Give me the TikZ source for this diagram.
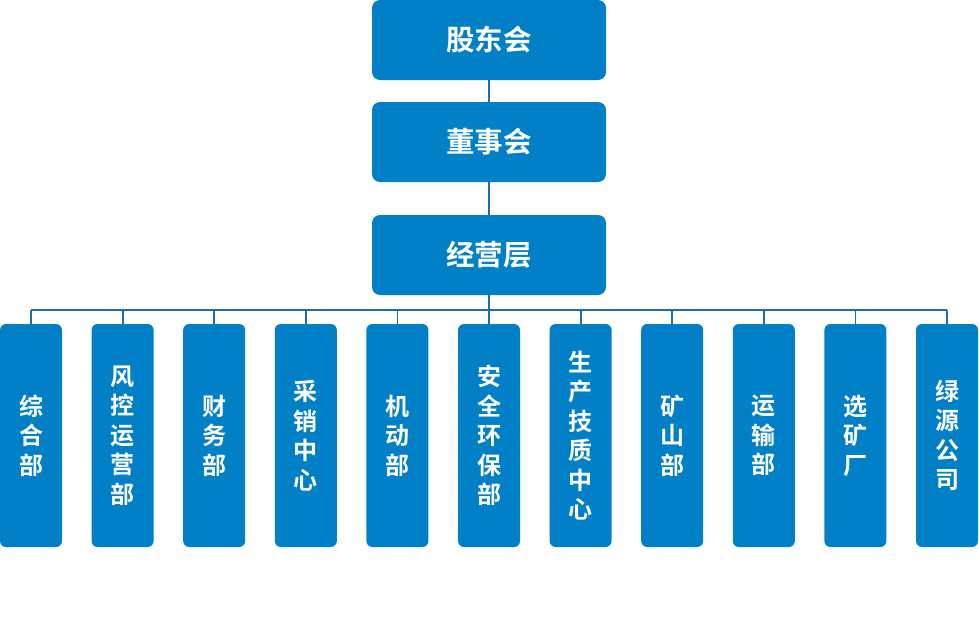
\documentclass[tikz,border=0pt]{standalone}
\usepackage{fontspec}
\setmainfont{Noto Sans CJK SC Bold}
\definecolor{boxblue}{HTML}{0180C8}
\definecolor{lineblue}{HTML}{1B6EAA}
\begin{document}
\begin{tikzpicture}[x=1pt,y=-1pt,
  topbox/.style={fill=boxblue,draw=none,rounded corners=8pt,minimum width=234pt,minimum height=80pt,inner sep=0pt,text=white,font=\fontsize{28.5}{32}\selectfont},
  deptbox/.style={fill=boxblue,draw=none,rounded corners=6pt,minimum width=62pt,minimum height=223pt,inner sep=0pt,text=white,align=center,font=\fontsize{24}{29.5}\selectfont},
  conn/.style={draw=lineblue,line width=1.8pt}]
\useasboundingbox (0,0) rectangle (979,621);
\node[topbox] (gd) at (489,40) {股东会};
\node[topbox] (dsh) at (489,142) {董事会};
\node[topbox] (jy) at (489,255) {经营层};
\coordinate (bus) at (489,310);
\draw[conn] (gd) -- (dsh);
\draw[conn] (dsh) -- (jy);
\draw[conn] (jy) -- (bus);
\foreach \i/\t in {0/综\\合\\部,1/风\\控\\运\\营\\部,2/财\\务\\部,3/采\\销\\中\\心,4/机\\动\\部,5/安\\全\\环\\保\\部,6/生\\产\\技\\质\\中\\心,7/矿\\山\\部,8/运\\输\\部,9/选\\矿\\厂,10/绿\\源\\公\\司}{
  \pgfmathsetmacro{\cx}{31+91.6*\i}
  \node[deptbox] (d\i) at (\cx,435.5) {\t};
  \coordinate (t\i) at (\cx,310);
}
\draw[conn] (t0) -- (t10);
\foreach \i in {0,...,10}{\draw[conn] (t\i) -- (d\i.north);}
\end{tikzpicture}
\end{document}
